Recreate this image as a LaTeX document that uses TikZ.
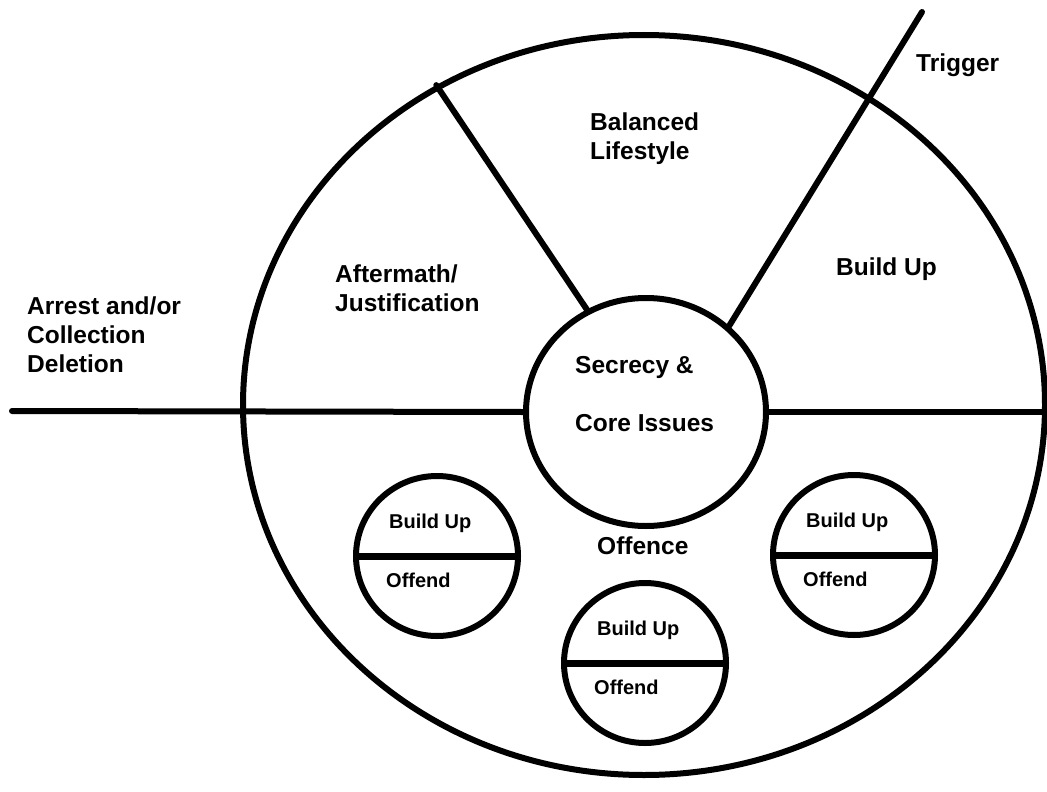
\documentclass[tikz,border=0pt]{standalone}
\usepackage{fontspec}
\setmainfont{Liberation Sans}
\usetikzlibrary{shapes.geometric}

\tikzset{
  ring/.style={draw, ellipse, line width=6pt, inner sep=0pt},
  spoke/.style={line width=6pt, line cap=round},
  bigtext/.style={font=\bfseries\fontsize{24.5}{29}\selectfont, anchor=base west, align=left, inner sep=0pt},
  smalltext/.style={font=\bfseries\fontsize{20}{24}\selectfont, anchor=base west, inner sep=0pt},
  phase/.style={ring, minimum width=162pt, minimum height=160pt}
}

\begin{document}
\begin{tikzpicture}[x=1pt, y=-1pt]
\useasboundingbox (0,0) rectangle (1047,792);
% the wheel
\node[ring, minimum width=802pt, minimum height=740pt] (cycle) at (644,405) {};
\node[ring, fill=white, minimum width=240pt, minimum height=228pt] (core) at (646,412) {};
\coordinate (exit) at (12,411);
\coordinate (rim) at (1050,412);
\coordinate (trigger tip) at (922,12);
\draw[spoke] (exit) -- (core.west);
\draw[spoke] (core.east) -- (rim);
\draw[spoke] (core.120) -- (cycle.123.5);
\draw[spoke] (core.46) -- (trigger tip);
% labels (base = last line)
\node[bigtext] (balanced) at (590,159) {Balanced\\Lifestyle};
\node[bigtext] (trigger) at (916,71) {Trigger};
\node[bigtext] (buildup) at (836,275) {Build Up};
\node[bigtext] (aftermath) at (335,311) {Aftermath/\\Justification};
\node[bigtext] (arrest) at (27,372) {Arrest and/or\\Collection\\Deletion};
\node[bigtext] (secrecy) at (575,431) {Secrecy \&\\[29pt]Core Issues};
\node[bigtext] (offence) at (597,554) {Offence};
% offences
\node[phase] (west offence) at (437,556) {};
\draw[line width=7pt] (west offence.west) -- (west offence.east);
\node[smalltext] (west build) at ([shift={(-48,-28)}]west offence.center) {Build Up};
\node[smalltext] (west offend) at ([shift={(-51,31)}]west offence.center) {Offend};
\node[phase] (south offence) at (645,663) {};
\draw[line width=7pt] (south offence.west) -- (south offence.east);
\node[smalltext] (south build) at ([shift={(-48,-28)}]south offence.center) {Build Up};
\node[smalltext] (south offend) at ([shift={(-51,31)}]south offence.center) {Offend};
\node[phase] (east offence) at (854,555) {};
\draw[line width=7pt] (east offence.west) -- (east offence.east);
\node[smalltext] (east build) at ([shift={(-48,-28)}]east offence.center) {Build Up};
\node[smalltext] (east offend) at ([shift={(-51,31)}]east offence.center) {Offend};
\end{tikzpicture}
\end{document}
